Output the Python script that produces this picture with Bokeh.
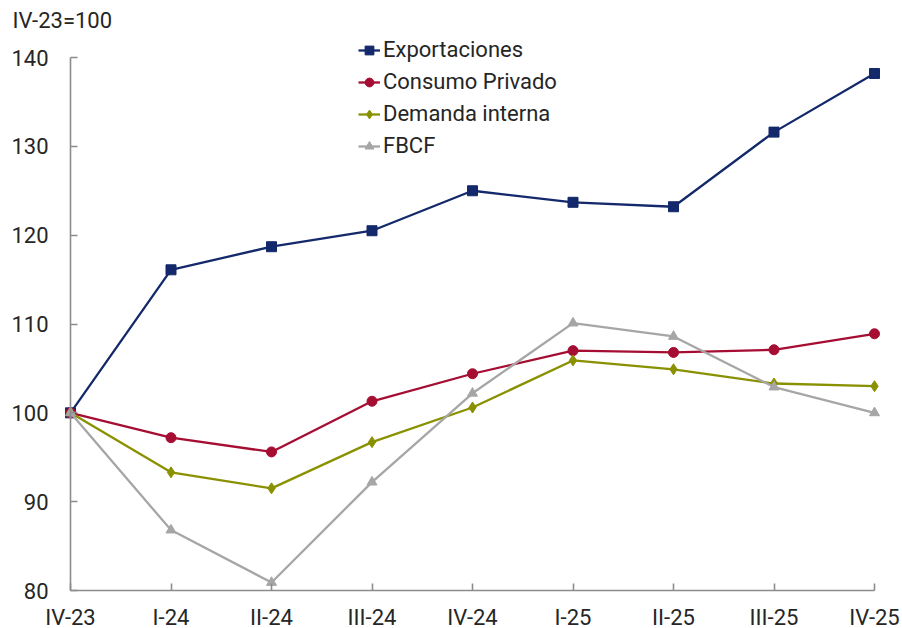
from bokeh.plotting import figure
from bokeh.models import (Range1d, LinearAxis, FixedTicker, Label, Legend,
                          LegendItem)
from bokeh.embed import file_html
from bokeh.resources import INLINE

# Quarterly indices, base IV-23 = 100
quarters = ["IV-23", "I-24", "II-24", "III-24", "IV-24", "I-25", "II-25", "III-25", "IV-25"]
exportaciones = [100.0, 116.1, 118.7, 120.5, 125.0, 123.7, 123.2, 131.6, 138.2]
consumo_privado = [100.0, 97.2, 95.6, 101.3, 104.4, 107.0, 106.8, 107.1, 108.9]
demanda_interna = [100.0, 93.3, 91.5, 96.7, 100.6, 105.9, 104.9, 103.3, 103.0]
fbcf = [100.0, 86.8, 80.9, 92.2, 102.2, 110.1, 108.6, 102.9, 100.0]
y_ticks = [80, 90, 100, 110, 120, 130, 140]

FONT = "Roboto"
FONT_SIZE = "22px"
AXIS_COLOR = "#8c8c8c"
TEXT_COLOR = "#262626"

W, H = 902, 628
# pixel placement of the axes inside the canvas
X0_PX, X8_PX = 70.0, 874.0
Y80_PX, Y140_PX = 590.0, 57.0

x = list(range(len(quarters)))
px_per_x = (X8_PX - X0_PX) / 8.0
px_per_y = (Y80_PX - Y140_PX) / 60.0
x_range = Range1d(-X0_PX / px_per_x, 8 + (W - X8_PX) / px_per_x)
y_range = Range1d(80 - (H - Y80_PX) / px_per_y, 140 + Y140_PX / px_per_y)

p = figure(width=W, height=H, x_range=x_range, y_range=y_range,
           x_axis_location=None, y_axis_location=None,
           output_backend="svg", toolbar_location=None,
           min_border=0, min_border_left=0, min_border_right=0,
           min_border_top=0, min_border_bottom=0)
p.outline_line_color = None
p.xgrid.visible = False
p.ygrid.visible = False
p.background_fill_color = "white"
p.border_fill_color = "white"


def style_axis(ax):
    ax.axis_line_color = AXIS_COLOR
    ax.axis_line_width = 1.6
    ax.major_tick_line_color = AXIS_COLOR
    ax.major_tick_line_width = 1.6
    ax.major_tick_in = 7
    ax.major_tick_out = 0
    ax.minor_tick_line_color = None
    ax.major_label_text_font = FONT
    ax.major_label_text_font_size = FONT_SIZE
    ax.major_label_text_color = TEXT_COLOR


xaxis = LinearAxis(fixed_location=80, bounds=(0, 8),
                   ticker=FixedTicker(ticks=x),
                   major_label_overrides={i: q for i, q in enumerate(quarters)})
style_axis(xaxis)
xaxis.major_label_standoff = 14
p.add_layout(xaxis, "below")

yaxis = LinearAxis(fixed_location=0, bounds=(80, 140),
                   ticker=FixedTicker(ticks=y_ticks))
style_axis(yaxis)
yaxis.major_label_standoff = 22
p.add_layout(yaxis, "left")

series = [
    ("Exportaciones", exportaciones, "#13296b", "square", 10),
    ("Consumo Privado", consumo_privado, "#a50d32", "circle", 10),
    ("Demanda interna", demanda_interna, "#8a9100", "diamond", 11),
    ("FBCF", fbcf, "#a6a6a6", "triangle", 10),
]

items = []
for name, vals, color, marker, size in series:
    ln = p.line(x, vals, line_color=color, line_width=2.3)
    sc = p.scatter(x, vals, marker=marker, size=size,
                   fill_color=color, line_color=color)
    items.append(LegendItem(label=name, renderers=[ln, sc]))

legend = Legend(items=items, location=(358, 470),
                padding=0, margin=0, spacing=7,
                glyph_width=22, glyph_height=24, label_height=24,
                label_standoff=3,
                label_text_font=FONT, label_text_font_size=FONT_SIZE,
                label_text_color=TEXT_COLOR,
                border_line_color=None, background_fill_alpha=0)
p.add_layout(legend, "center")

p.add_layout(Label(x=0, y=140, x_offset=-58, y_offset=37,
                   text="IV-23=100", text_font=FONT,
                   text_font_size=FONT_SIZE, text_color=TEXT_COLOR,
                   text_baseline="middle", text_align="left"))

open("out.html", "w").write(file_html(p, INLINE))
